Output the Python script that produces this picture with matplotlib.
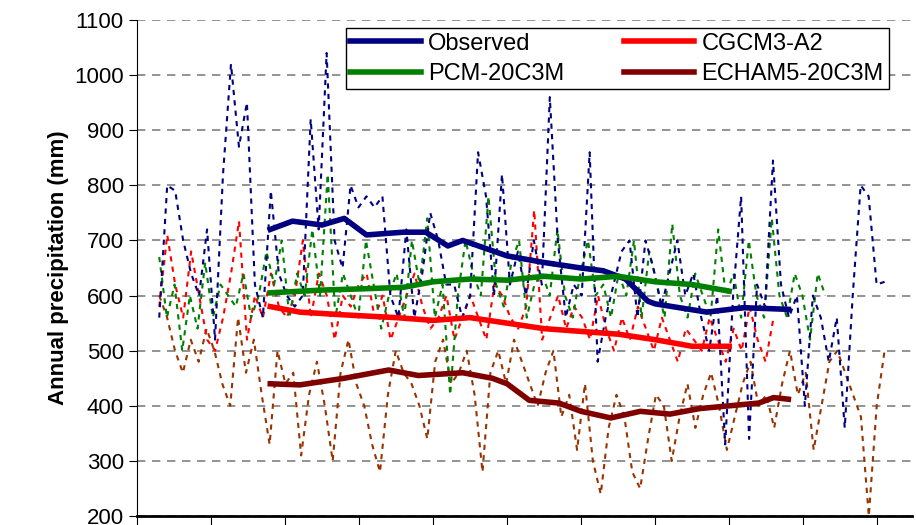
import matplotlib
matplotlib.use("Agg")
import matplotlib.pyplot as plt
import numpy as np

plt.rcParams["font.family"] = ["Liberation Sans", "DejaVu Sans"]

# annual series; each spans (first year, last year)
observed_span = (1903, 2001)
observed = [560, 800, 790, 700, 640, 600, 720, 520, 820, 1020,
            870, 950, 620, 560, 790, 640, 600, 580, 600, 920,
            720, 1040, 700, 650, 800, 760, 780, 760, 780, 600,
            560, 720, 560, 640, 750, 700, 620, 620, 560, 600,
            860, 780, 600, 820, 620, 680, 600, 700, 620, 960,
            700, 560, 620, 600, 860, 480, 560, 620, 680, 700,
            560, 700, 650, 580, 640, 700, 600, 640, 560, 500,
            600, 330, 600, 780, 340, 620, 580, 845, 620, 560,
            600, 400, 600, 560, 480, 560, 360, 600, 800, 780,
            620, 625]
cgcm_span = (1903, 1986)
cgcm = [580, 710, 620, 560, 680, 600, 520, 500, 560, 640,
        735, 520, 600, 560, 640, 580, 560, 600, 700, 560,
        640, 600, 520, 600, 580, 620, 640, 560, 600, 520,
        560, 600, 640, 580, 540, 560, 600, 520, 560, 600,
        560, 520, 620, 600, 560, 540, 580, 755, 520, 560,
        600, 540, 580, 560, 520, 600, 540, 500, 560, 520,
        580, 540, 500, 560, 520, 480, 540, 520, 500, 560,
        520, 480, 540, 500, 580, 520, 480, 560]
pcm_span = (1903, 1993)
pcm = [670, 560, 620, 500, 600, 540, 660, 560, 620, 600,
       580, 640, 560, 600, 680, 620, 700, 560, 640, 600,
       720, 600, 820, 560, 640, 600, 560, 700, 620, 540,
       600, 640, 560, 700, 620, 740, 560, 620, 420, 600,
       700, 640, 600, 780, 620, 580, 660, 700, 560, 620,
       640, 600, 720, 600, 560, 640, 700, 600, 620, 560,
       640, 600, 700, 560, 680, 620, 560, 730, 600, 560,
       640, 600, 560, 720, 600, 640, 560, 700, 600, 560,
       740, 600, 560, 640, 600, 520, 640, 600]
echam_span = (1903, 2001)
echam = [600, 560, 500, 460, 520, 480, 540, 500, 440, 400,
         560, 460, 520, 420, 330, 500, 440, 460, 310, 420,
         480, 400, 300, 460, 520, 440, 400, 330, 280, 420,
         500, 460, 440, 400, 340, 480, 520, 440, 460, 500,
         420, 280, 460, 500, 440, 520, 480, 440, 400, 460,
         500, 380, 420, 320, 440, 300, 240, 360, 420, 380,
         280, 250, 340, 420, 400, 300, 380, 440, 360, 420,
         460, 400, 320, 380, 440, 480, 400, 420, 360, 440,
         500, 420, 460, 320, 400, 480, 500, 460, 420, 380,
         200, 400, 500]

# smoothed curves (year, value) read at vertices
obs_sm_x = [1918, 1921, 1925, 1928, 1931, 1936, 1939, 1942, 1944, 1950, 1955, 1960, 1963, 1966, 1969, 1970, 1977, 1982, 1988]
obs_sm_y = [720, 735, 728, 740, 710, 715, 715, 690, 700, 672, 660, 650, 645, 630, 590, 585, 570, 578, 575]
pcm_sm_x = [1918, 1925, 1930, 1936, 1940, 1945, 1950, 1955, 1960, 1965, 1970, 1975, 1980]
pcm_sm_y = [605, 610, 612, 615, 625, 630, 628, 635, 630, 635, 625, 620, 608]
cgcm_sm_x = [1918, 1922, 1928, 1935, 1940, 1945, 1950, 1955, 1960, 1965, 1970, 1975, 1980]
cgcm_sm_y = [580, 570, 565, 560, 555, 560, 550, 540, 535, 530, 520, 508, 508]
echam_sm_x = [1918, 1922, 1928, 1932, 1934, 1938, 1944, 1948, 1950, 1953, 1957, 1960, 1964, 1968, 1972, 1976, 1980, 1984, 1986, 1988]
echam_sm_y = [440, 438, 450, 460, 465, 455, 460, 450, 440, 410, 405, 390, 378, 390, 385, 395, 400, 405, 415, 412]

fig = plt.figure(figsize=(9.16, 5.25), dpi=100)
ax = fig.add_axes([0.1496, 0.017, 0.846, 0.945])

def yrs(span, vals):
    return np.linspace(span[0], span[1], len(vals))

dot = (0, (2.5, 2.5))
ax.plot(yrs(echam_span, echam), echam, color="#993300", lw=1.5, ls=dot)
ax.plot(yrs(cgcm_span, cgcm), cgcm, color="#ff0000", lw=1.5, ls=dot)
ax.plot(yrs(pcm_span, pcm), pcm, color="#008000", lw=1.5, ls=dot)
ax.plot(yrs(observed_span, observed), observed, color="#000080", lw=1.5, ls=dot)

ax.plot(obs_sm_x, obs_sm_y, color="#000080", lw=4, label="Observed")
ax.plot(pcm_sm_x, pcm_sm_y, color="#008000", lw=4, label="PCM-20C3M")
ax.plot(cgcm_sm_x, cgcm_sm_y, color="#ff0000", lw=4, label="CGCM3-A2")
ax.plot(echam_sm_x, echam_sm_y, color="#800000", lw=4, label="ECHAM5-20C3M")

ax.set_xlim(1900, 2004.7)
ax.set_ylim(200, 1100)
ax.set_xticks(np.arange(1900, 2001, 10))
ax.set_xticklabels([])
ax.set_yticks(np.arange(200, 1101, 100))
ax.tick_params(axis="y", labelsize=16, length=6, direction="out")
ax.tick_params(axis="x", length=7, direction="out")
ax.yaxis.grid(True, ls=(0, (5, 4)), color="#808080", lw=1.2)
ax.set_axisbelow(True)
for s in ("top", "right"):
    ax.spines[s].set_visible(False)
ax.spines["bottom"].set_linewidth(2)
ax.set_ylabel("Annual precipitation (mm)", fontsize=16, fontweight="bold")

ax.legend(loc="upper right", bbox_to_anchor=(0.985, 1.008), ncol=2, fontsize=17,
          frameon=True, fancybox=False, edgecolor="black", framealpha=1,
          handlelength=3.0, columnspacing=2.5, borderpad=0.2, labelspacing=0.35,
          handletextpad=0.3)

fig.savefig("out.png", dpi=100)
